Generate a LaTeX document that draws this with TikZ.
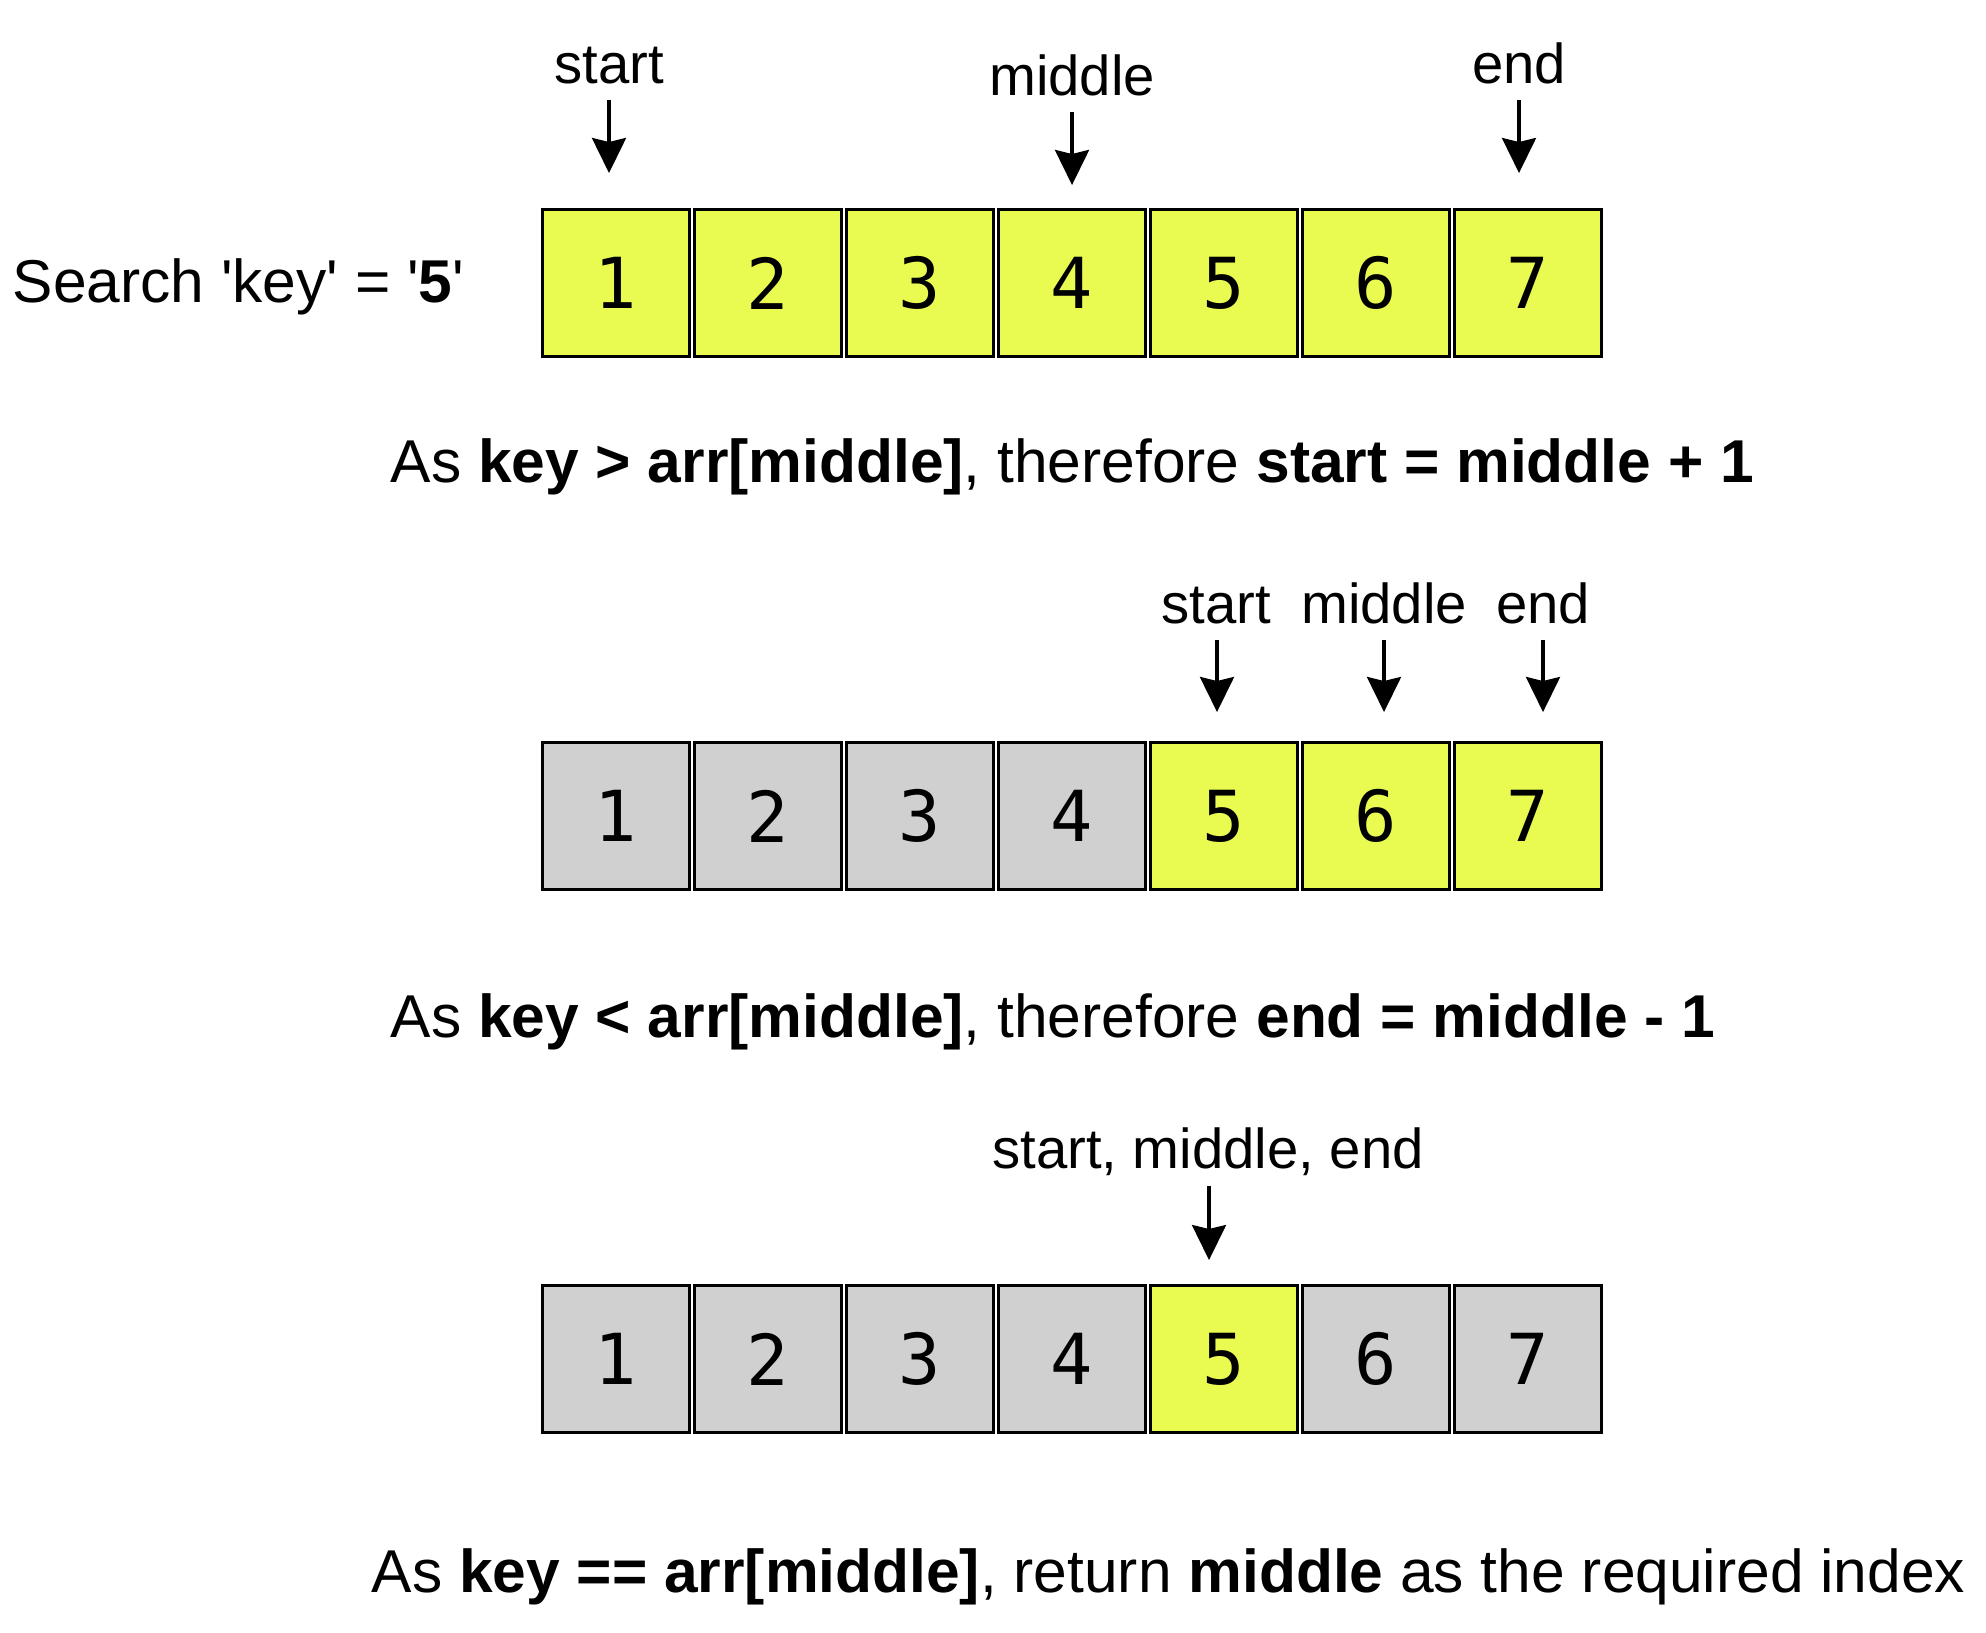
\documentclass[tikz,border=0pt]{standalone}
\usepackage{fontspec}
\setmainfont{Liberation Sans}
\newfontfamily\digitfont{DejaVu Sans Mono}
\usetikzlibrary{arrows.meta}
\definecolor{hit}{RGB}{233,251,80}
\definecolor{gone}{RGB}{208,208,208}
\tikzset{
  cell/.style={draw=black, line width=.8pt, minimum size=1.47cm, inner sep=0pt,
    font=\digitfont\fontsize{20}{24}\selectfont},
  live/.style={cell, fill=hit},
  dead/.style={cell, fill=gone},
  ptr/.style={-{Stealth[length=.35cm, width=.34cm, inset=.04cm]}, line width=.9pt},
  lbl/.style={font=\fontsize{16}{19}\selectfont, inner sep=0pt, anchor=base},
  note/.style={font=\fontsize{17.2}{21}\selectfont, inner sep=0pt, anchor=base west}
}
\newcommand{\q}{\textquotesingle}
\begin{document}
\begin{tikzpicture}[x=.01cm, y=-.01cm]
	\useasboundingbox (0,0) rectangle (1986,1632);
	% first pass: whole array
	\node[note] (search) at (12,302) {Search \q key\q{} = \q\textbf{5}\q};
	\node[live] (a1) at (616,283)  {1};
	\node[live] (a2) at (768,283)  {2};
	\node[live] (a3) at (920,283)  {3};
	\node[live] (a4) at (1072,283) {4};
	\node[live] (a5) at (1224,283) {5};
	\node[live] (a6) at (1376,283) {6};
	\node[live] (a7) at (1528,283) {7};
	\node[lbl] (sa) at (609,83)  {start};
	\node[lbl] (ma) at (1072,95) {middle};
	\node[lbl] (ea) at (1519,83) {end};
	\coordinate (sa0) at (609,100);  \coordinate (sa1) at (609,173);
	\coordinate (ma0) at (1072,112); \coordinate (ma1) at (1072,185);
	\coordinate (ea0) at (1519,100); \coordinate (ea1) at (1519,173);
	\draw[ptr] (sa0) -- (sa1);
	\draw[ptr] (ma0) -- (ma1);
	\draw[ptr] (ea0) -- (ea1);
	\node[note] (stepa) at (390,482) {As \textbf{key > arr[middle]}, therefore \textbf{start = middle + 1}};
	% second pass: right half
	\node[dead] (b1) at (616,816)  {1};
	\node[dead] (b2) at (768,816)  {2};
	\node[dead] (b3) at (920,816)  {3};
	\node[dead] (b4) at (1072,816) {4};
	\node[live] (b5) at (1224,816) {5};
	\node[live] (b6) at (1376,816) {6};
	\node[live] (b7) at (1528,816) {7};
	\node[lbl] (sb) at (1216,623) {start};
	\node[lbl] (mb) at (1384,623) {middle};
	\node[lbl] (eb) at (1543,623) {end};
	\coordinate (sb0) at (1217,640); \coordinate (sb1) at (1217,712);
	\coordinate (mb0) at (1384,640); \coordinate (mb1) at (1384,712);
	\coordinate (eb0) at (1543,640); \coordinate (eb1) at (1543,712);
	\draw[ptr] (sb0) -- (sb1);
	\draw[ptr] (mb0) -- (mb1);
	\draw[ptr] (eb0) -- (eb1);
	\node[note] (stepb) at (390,1037) {As \textbf{key < arr[middle]}, therefore \textbf{end = middle - 1}};
	% third pass: found
	\node[dead] (c1) at (616,1359)  {1};
	\node[dead] (c2) at (768,1359)  {2};
	\node[dead] (c3) at (920,1359)  {3};
	\node[dead] (c4) at (1072,1359) {4};
	\node[live] (c5) at (1224,1359) {5};
	\node[dead] (c6) at (1376,1359) {6};
	\node[dead] (c7) at (1528,1359) {7};
	\node[lbl] (sc) at (1208,1168) {start, middle, end};
	\coordinate (sc0) at (1209,1186); \coordinate (sc1) at (1209,1260);
	\draw[ptr] (sc0) -- (sc1);
	\node[note] (stepc) at (371,1592) {As \textbf{key == arr[middle]}, return \textbf{middle} as the required index};
\end{tikzpicture}
\end{document}
